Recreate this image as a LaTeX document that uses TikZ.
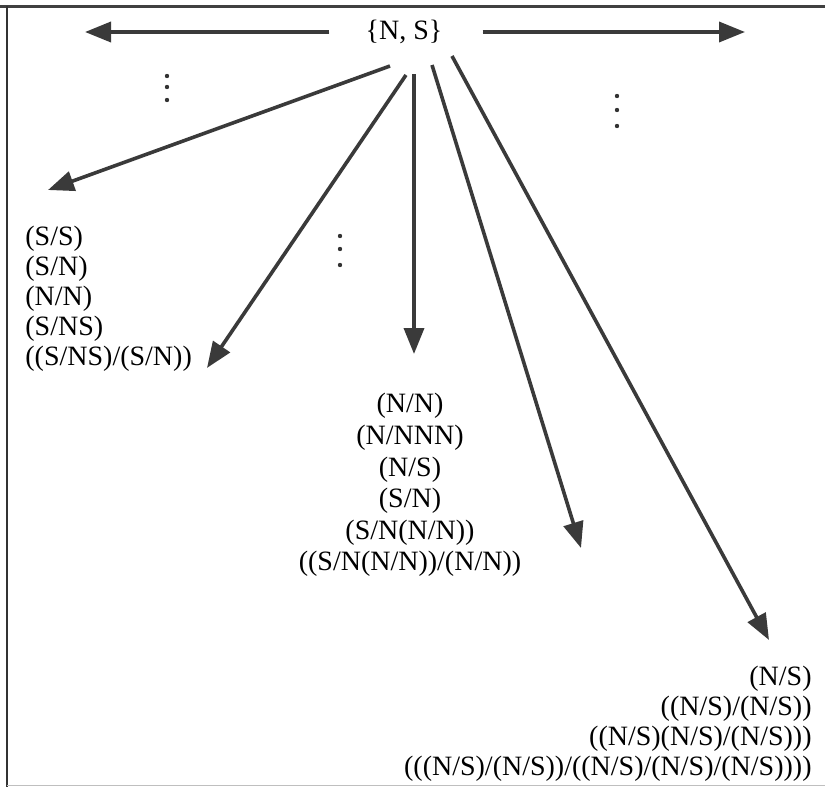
\documentclass[tikz,border=0pt]{standalone}
\usepackage{fontspec}
\setmainfont{Liberation Serif}
\usetikzlibrary{arrows.meta,positioning}
\definecolor{arrowgray}{HTML}{3A3A3A}

\begin{document}
\begin{tikzpicture}[
        x=0.5pt, y=-0.5pt,
        cattext/.style={inner sep=0pt,font=\fontsize{14pt}{15pt}\selectfont},
        dotmark/.style={fill=black!80},
        arrow/.style={-{Triangle[length=13pt,width=10pt]},line width=1.8pt,draw=arrowgray,fill=arrowgray}
    ]
        \useasboundingbox (0,0) rectangle (825,787);
        % frame
        \draw[line width=1.5pt,black!75] (0,6) -- (825,6);
        \draw[line width=1pt,black!80] (7,6) -- (7,787);
        \draw[line width=0.5pt,black!25] (7,785) -- (825,785);

        \node[cattext] (root) at (404,32) {\{N, S\}};
        \coordinate (ltip) at (85,32);
        \coordinate (rtip) at (745,32);
        \draw[arrow,shorten <=18pt] (root.west) -- (ltip);
        \draw[arrow,shorten <=20pt] (root.east) -- (rtip);

        % vertical dots
        \foreach \dx/\dy in {167/76,167/87,167/100,340/236,340/249,340/265,617/96,617/110,617/126}
            \fill[dotmark] (\dx,\dy) circle (1.1pt);

        \node[cattext,align=left,anchor=north west] (leftcats) at (25,226)
            {(S/S)\\(S/N)\\(N/N)\\(S/NS)\\((S/NS)/(S/N))};
        \node[cattext,font=\fontsize{14pt}{15.8pt}\selectfont,align=center,anchor=north] (midcats) at (410,393)
            {(N/N)\\(N/NNN)\\(N/S)\\(S/N)\\(S/N(N/N))\\((S/N(N/N))/(N/N))};
        \node[cattext,align=right,anchor=north east] (botcats) at (812,666)
            {(N/S)\\((N/S)/(N/S))\\((N/S)(N/S)/(N/S)))\\(((N/S)/(N/S))/((N/S)/(N/S)/(N/S))))};

        % fan of arrows below the root
        \coordinate (s1) at (390,66);  \coordinate (t1) at (48,190);
        \coordinate (s2) at (406,75);  \coordinate (t2) at (207,368);
        \coordinate (s3) at (414,74);  \coordinate (t3) at (414,354);
        \coordinate (s4) at (432,65);  \coordinate (t4) at (581,548);
        \coordinate (s5) at (452,56);  \coordinate (t5) at (769,640);
        \foreach \i in {1,...,5}
            \draw[arrow] (s\i) -- (t\i);
    \end{tikzpicture}
\end{document}
